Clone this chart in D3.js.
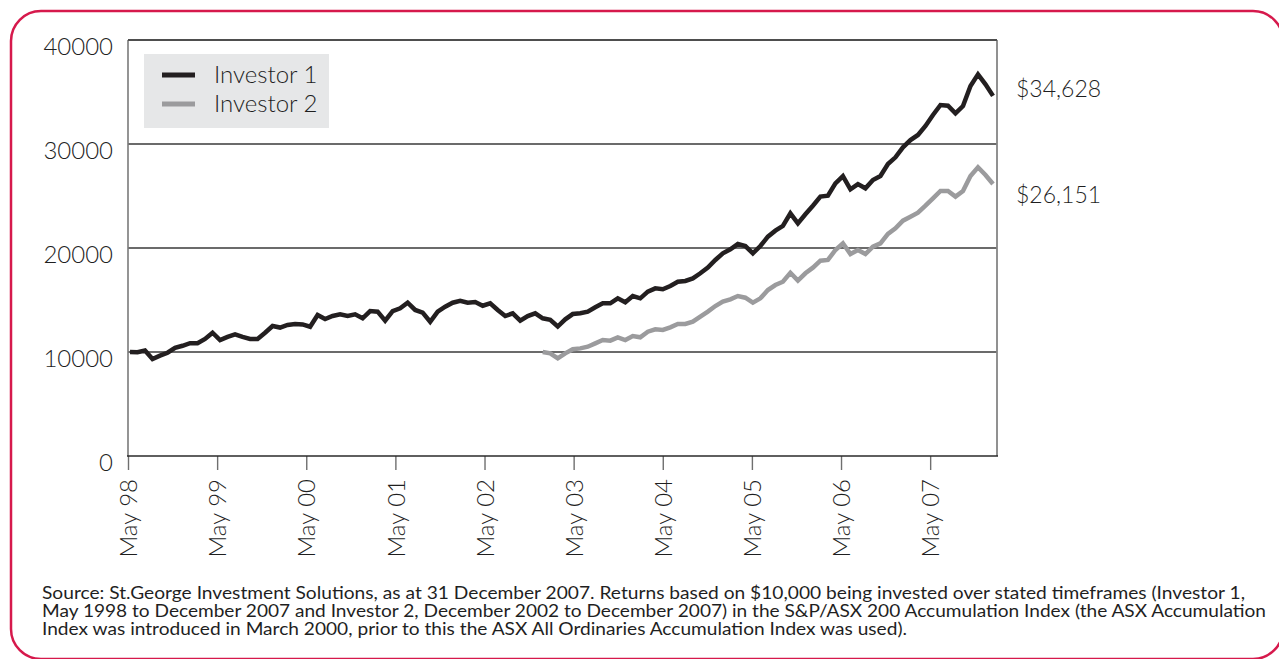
<!DOCTYPE html>
<html>
<head>
<meta charset="utf-8">
<script src="https://cdn.jsdelivr.net/npm/d3@7"></script>
<style>
html, body { margin: 0; padding: 0; background: #fff; }
svg { display: block; }
text { font-family: Lato, "Open Sans", "DejaVu Sans", sans-serif; font-weight: 300; fill: #1f1f1f; }
</style>
</head>
<body>
<svg id="chart" width="1279" height="659"></svg>
<script>
// ---------- data ----------
const tickLabels = ["May 98", "May 99", "May 00", "May 01", "May 02", "May 03", "May 04", "May 05", "May 06", "May 07"];
const yTicks = [0, 10000, 20000, 30000, 40000];
const seriesNames = ["Investor 1", "Investor 2"];
const seriesColors = ["#231f20", "#9b9b9d"];

// Investor 1: monthly, May 1998 - Dec 2007
const investor1 = [
  10000, 9980, 10150, 9330, 9650, 9930, 10400, 10600, 10850, 10850,
  11250, 11850, 11150, 11450, 11700, 11450, 11250, 11250, 11850, 12500,
  12350, 12600, 12700, 12650, 12430, 13560, 13170, 13460, 13620, 13460,
  13620, 13240, 13940, 13880, 13010, 13940, 14200, 14740, 14040, 13780,
  12910, 13880, 14360, 14740, 14930, 14740, 14800, 14450, 14680, 14040,
  13460, 13720, 13010, 13460, 13720, 13240, 13100, 12450, 13140, 13650,
  13720, 13880, 14300, 14680, 14680, 15160, 14780, 15380, 15160, 15800,
  16120, 16030, 16350, 16760, 16830, 17080, 17570, 18110, 18850, 19490,
  19870, 20380, 20190, 19490, 20190, 21090, 21670, 22120, 23330, 22370,
  23240, 24070, 24940, 25030, 26220, 26920, 25640, 26150, 25740, 26540,
  26920, 28080, 28720, 29680, 30380, 30870, 31730, 32790, 33750, 33680,
  32950, 33650, 35580, 36700, 35740, 34628
];

// Investor 2: monthly, Dec 2002 - Dec 2007
const investor2StartIndex = 55;
const investor2 = [
  10000, 9870, 9390, 9870, 10260, 10350, 10510, 10830, 11150, 11090,
  11410, 11150, 11540, 11410, 11950, 12180, 12120, 12370, 12690, 12690,
  12910, 13400, 13880, 14420, 14840, 15070, 15380, 15220, 14740, 15160,
  15960, 16440, 16760, 17620, 16860, 17570, 18110, 18780, 18850, 19810,
  20450, 19420, 19810, 19420, 20130, 20450, 21350, 21890, 22630, 23010,
  23400, 24070, 24780, 25480, 25480, 24940, 25480, 26920, 27760, 27020,
  26151
];

const endLabels = ["$34,628", "$26,151"];

const footnote = [
  "Source: St.George Investment Solutions, as at 31 December 2007. Returns based on $10,000 being invested over stated timeframes (Investor 1,",
  "May 1998 to December 2007 and Investor 2, December 2002 to December 2007) in the S&P/ASX 200 Accumulation Index (the ASX Accumulation",
  "Index was introduced in March 2000, prior to this the ASX All Ordinaries Accumulation Index was used)."
];

// ---------- layout ----------
const svg = d3.select("#chart");
const plot = { left: 128, right: 997, top: 40, bottom: 456 };

// outer rounded red frame
svg.append("rect")
  .attr("x", 11).attr("y", 11)
  .attr("width", 1272).attr("height", 648)
  .attr("rx", 30).attr("ry", 30)
  .attr("fill", "none")
  .attr("stroke", "#d6194c")
  .attr("stroke-width", 2.5);

// data positions (monthly points) and axis slots (category axis, 117 slots)
const x = d3.scaleLinear().domain([0, investor1.length - 1]).range([130, 993]);
const xAxisScale = d3.scaleLinear().domain([0, 117]).range([plot.left, plot.right]);
const y = d3.scaleLinear().domain([0, 40000]).range([plot.bottom, plot.top]);

// gridlines
svg.append("g").selectAll("line")
  .data(yTicks.filter(d => d > 0))
  .join("line")
  .attr("x1", plot.left).attr("x2", plot.right)
  .attr("y1", d => y(d)).attr("y2", d => y(d))
  .attr("stroke", "#3a3a3a").attr("stroke-width", 1.3);

// left and right frame lines
svg.append("line")
  .attr("x1", plot.left).attr("x2", plot.left)
  .attr("y1", plot.top).attr("y2", plot.bottom)
  .attr("stroke", "#7a7a7a").attr("stroke-width", 1.6);
svg.append("line")
  .attr("x1", plot.right).attr("x2", plot.right)
  .attr("y1", plot.top).attr("y2", plot.bottom)
  .attr("stroke", "#858585").attr("stroke-width", 1.8);

// y axis labels
const yAxis = d3.axisLeft(y).tickValues(yTicks).tickSize(0).tickPadding(15).tickFormat(d3.format("d"));
const gy = svg.append("g").attr("transform", `translate(${plot.left},0)`).call(yAxis);
gy.select(".domain").remove();
gy.selectAll("text")
  .attr("font-size", 24)
  .attr("dy", "0.6em")
  .style("font-family", "Lato, 'Open Sans', sans-serif")
  .style("font-weight", 300)
  .attr("fill", "#1f1f1f");

// x axis
const tickIdx = tickLabels.map((_, i) => i * 12);
const xAxis = d3.axisBottom(xAxisScale).tickValues(tickIdx).tickFormat((d, i) => tickLabels[i]).tickSize(14).tickSizeOuter(0);
const gx = svg.append("g").attr("transform", `translate(0,${plot.bottom})`).call(xAxis);
gx.select(".domain").remove();
gx.selectAll(".tick line").attr("stroke", "#6f6f6f").attr("stroke-width", 1.4);
gx.selectAll("text")
  .attr("transform", "rotate(-90)")
  .attr("text-anchor", "end")
  .attr("x", -23)
  .attr("y", 0)
  .attr("dy", "0.36em")
  .attr("font-size", 24)
  .style("font-family", "Lato, 'Open Sans', sans-serif")
  .style("font-weight", 300)
  .attr("fill", "#1f1f1f");

// top and bottom frame lines
svg.append("line")
  .attr("x1", plot.left).attr("x2", plot.right)
  .attr("y1", plot.top).attr("y2", plot.top)
  .attr("stroke", "#444").attr("stroke-width", 1.4);
svg.append("line")
  .attr("x1", plot.left - 1).attr("x2", plot.right + 1)
  .attr("y1", plot.bottom).attr("y2", plot.bottom)
  .attr("stroke", "#2a2a2a").attr("stroke-width", 1.6);

// lines
const line = d3.line().x(d => x(d[0])).y(d => y(d[1]));
const s1 = investor1.map((v, i) => [i, v]);
const s2 = investor2.map((v, i) => [i + investor2StartIndex, v]);

svg.append("path").datum(s2)
  .attr("d", line).attr("fill", "none")
  .attr("stroke", seriesColors[1]).attr("stroke-width", 4.5)
  .attr("stroke-linejoin", "miter").attr("stroke-miterlimit", 2);
svg.append("path").datum(s1)
  .attr("d", line).attr("fill", "none")
  .attr("stroke", seriesColors[0]).attr("stroke-width", 4.5)
  .attr("stroke-linejoin", "miter").attr("stroke-miterlimit", 2);

// end value labels (placed beside the line ends, nudged apart)
const lastVals = [investor1[investor1.length - 1], investor2[investor2.length - 1]];
const labelNudge = [-7, 11];
svg.append("g").selectAll("text")
  .data(endLabels)
  .join("text")
  .attr("x", 1016)
  .attr("y", (d, i) => y(lastVals[i]) + labelNudge[i])
  .attr("dy", "0.36em")
  .attr("font-size", 23)
  .attr("fill", "#1f1f1f")
  .text(d => d);

// legend
const lg = svg.append("g");
lg.append("rect")
  .attr("x", 144).attr("y", 54).attr("width", 185).attr("height", 74)
  .attr("fill", "#e6e7e8");
const rows = lg.selectAll("g.row").data(seriesNames).join("g")
  .attr("class", "row")
  .attr("transform", (d, i) => `translate(0,${75 + i * 29})`);
rows.append("line")
  .attr("x1", 162).attr("x2", 195)
  .attr("stroke", (d, i) => seriesColors[i])
  .attr("stroke-width", 5);
rows.append("text")
  .attr("x", 214).attr("y", 0).attr("dy", "0.35em")
  .attr("font-size", 24)
  .attr("fill", "#1f1f1f")
  .text(d => d);

// footnote
const fnWidths = [1203, 1224, 865];
svg.append("g").selectAll("text")
  .data(footnote)
  .join("text")
  .attr("x", 42)
  .attr("y", (d, i) => 599 + i * 18)
  .attr("font-size", 16.5)
  .style("font-weight", 400)
  .attr("fill", "#2a2a2a")
  .attr("textLength", (d, i) => fnWidths[i])
  .attr("lengthAdjust", "spacingAndGlyphs")
  .text(d => d);
</script>
</body>
</html>
